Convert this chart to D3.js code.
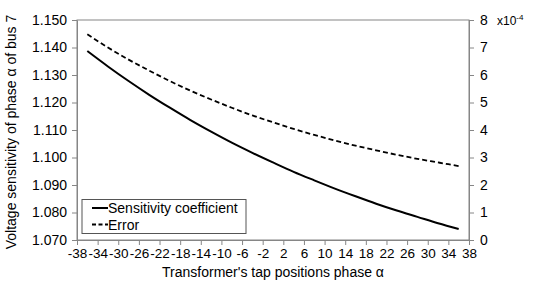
<!DOCTYPE html>
<html>
<head>
<meta charset="utf-8">
<script src="https://cdn.jsdelivr.net/npm/d3@7"></script>
<style>
  body { margin: 0; background: #fff; }
  svg { font-family: "Liberation Sans", Arial, sans-serif; }
</style>
</head>
<body>
<div id="chart"></div>
<script>
// tap positions (x) and the two series
const taps = [-36, -32, -28, -24, -20, -16, -12, -8, -4, 0, 4, 8, 12, 16, 20, 24, 28, 32, 36];
const sensitivity = [1.1387, 1.1331, 1.1278, 1.1228, 1.1181, 1.1136, 1.1094, 1.1054, 1.1017, 1.0982,
  1.0948, 1.0917, 1.0887, 1.0859, 1.0832, 1.0807, 1.0784, 1.0761, 1.0740];
const errorVals = [7.48, 7.00, 6.56, 6.16, 5.78, 5.43, 5.11, 4.81, 4.53, 4.28,
  4.04, 3.82, 3.62, 3.43, 3.26, 3.10, 2.95, 2.82, 2.69]; // x10^-4

const xTicks = d3.range(-38, 39, 4);
const leftTicks = [1.07, 1.08, 1.09, 1.10, 1.11, 1.12, 1.13, 1.14, 1.15];
const rightTicks = [0, 1, 2, 3, 4, 5, 6, 7, 8];

const width = 538, height = 293;
const margin = { top: 20, right: 69, bottom: 53, left: 77 };
const axisGrey = "#868686";

const svg = d3.select("#chart").append("svg")
  .attr("width", width)
  .attr("height", height);

const xScale = d3.scaleLinear()
  .domain([-38, 38])
  .range([margin.left, width - margin.right]);

const yLeft = d3.scaleLinear()
  .domain([1.07, 1.15])
  .range([height - margin.bottom, margin.top]);

const yRight = d3.scaleLinear()
  .domain([0, 8])
  .range([height - margin.bottom, margin.top]);

// plot frame
svg.append("rect")
  .attr("x", margin.left)
  .attr("y", margin.top)
  .attr("width", width - margin.left - margin.right)
  .attr("height", height - margin.top - margin.bottom)
  .attr("fill", "none")
  .attr("stroke", axisGrey);

const xAxis = svg.append("g")
  .attr("transform", `translate(0, ${height - margin.bottom})`)
  .call(d3.axisBottom(xScale).tickValues(xTicks).tickSize(5).tickSizeOuter(0).tickPadding(3).tickFormat(d => d));

const leftAxis = svg.append("g")
  .attr("transform", `translate(${margin.left}, 0)`)
  .call(d3.axisLeft(yLeft).tickValues(leftTicks).tickSize(5).tickSizeOuter(0).tickPadding(5).tickFormat(d3.format(".3f")));

const rightAxis = svg.append("g")
  .attr("transform", `translate(${width - margin.right}, 0)`)
  .call(d3.axisRight(yRight).tickValues(rightTicks).tickSize(5).tickSizeOuter(0).tickPadding(6).tickFormat(d => d));

[xAxis, leftAxis, rightAxis].forEach(g => {
  g.select(".domain").attr("stroke", axisGrey);
  g.selectAll(".tick line").attr("stroke", axisGrey);
  g.selectAll(".tick text").attr("fill", "#000").attr("font-size", 14)
    .attr("font-family", "Liberation Sans, Arial, sans-serif");
});
xAxis.selectAll(".tick text").attr("font-size", 13.5);

// x10^-4 label for right axis
const expo = svg.append("text")
  .attr("x", 497)
  .attr("y", 25)
  .attr("font-size", 12)
  .attr("fill", "#000");
expo.append("tspan").text("x10");
expo.append("tspan").attr("dy", -5).attr("font-size", 8).text("-4");

// lines
const lineSens = d3.line()
  .x((d, i) => xScale(taps[i]))
  .y(d => yLeft(d))
  .curve(d3.curveMonotoneX);

const lineErr = d3.line()
  .x((d, i) => xScale(taps[i]))
  .y(d => yRight(d))
  .curve(d3.curveMonotoneX);

svg.append("path")
  .datum(errorVals)
  .attr("d", lineErr)
  .attr("fill", "none")
  .attr("stroke", "#000")
  .attr("stroke-width", 1.8)
  .attr("stroke-dasharray", "5,3");

svg.append("path")
  .datum(sensitivity)
  .attr("d", lineSens)
  .attr("fill", "none")
  .attr("stroke", "#000")
  .attr("stroke-width", 2);

// axis titles
svg.append("text")
  .attr("transform", `translate(16, ${(margin.top + height - margin.bottom) / 2 + 2})rotate(-90)`)
  .attr("text-anchor", "middle")
  .attr("font-size", 14)
  .attr("fill", "#000")
  .text("Voltage sensitivity of phase α of bus 7");

svg.append("text")
  .attr("x", 273)
  .attr("y", 277)
  .attr("text-anchor", "middle")
  .attr("font-size", 14)
  .attr("fill", "#000")
  .text("Transformer's tap positions phase α");

// legend
const legend = svg.append("g");
legend.append("rect")
  .attr("x", 82)
  .attr("y", 199.5)
  .attr("width", 164)
  .attr("height", 34)
  .attr("fill", "#fff")
  .attr("stroke", "#555");

const legendItems = [
  { label: "Sensitivity coefficient", dash: null, y: 208 },
  { label: "Error", dash: "4,2.5", y: 224.5 }
];
legendItems.forEach(it => {
  legend.append("line")
    .attr("x1", 92).attr("x2", 108)
    .attr("y1", it.y).attr("y2", it.y)
    .attr("stroke", "#000")
    .attr("stroke-width", 2)
    .attr("stroke-dasharray", it.dash);
  legend.append("text")
    .attr("x", 108)
    .attr("y", it.y + 5)
    .attr("font-size", 14)
    .attr("fill", "#000")
    .text(it.label);
});
</script>
</body>
</html>
